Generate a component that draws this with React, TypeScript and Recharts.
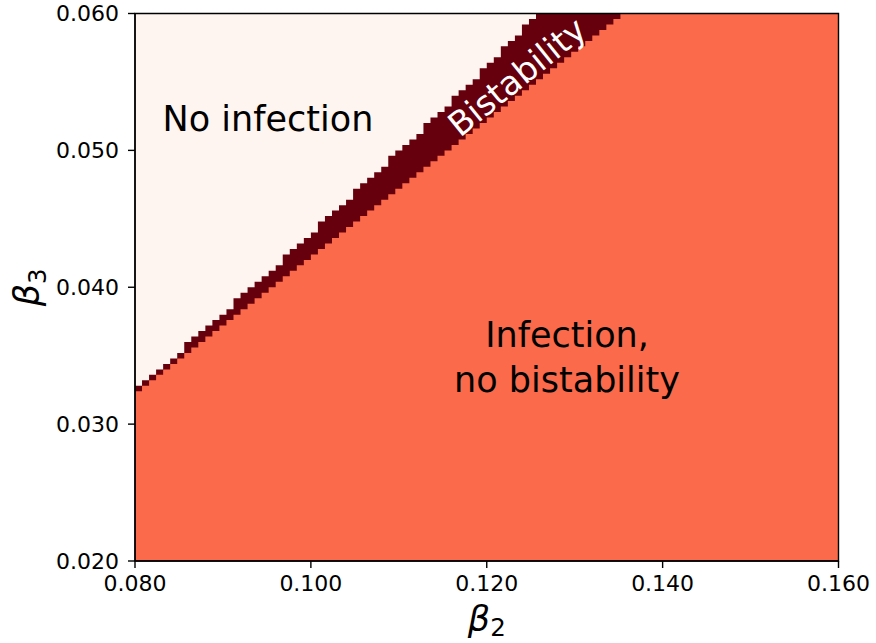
import React from 'react';
import { ComposedChart, Area, XAxis, YAxis, ReferenceArea, ReferenceDot } from 'recharts';

// Parameter grid: 100 x 100 cells over beta2 in [0.08, 0.16] and beta3 in [0.02, 0.06]
const X_MIN = 0.08;
const X_MAX = 0.16;
const Y_MIN = 0.02;
const Y_MAX = 0.06;
const GRID_COLS = 100;
const GRID_ROWS = 100;
const CELL_W = (X_MAX - X_MIN) / GRID_COLS;
const CELL_H = (Y_MAX - Y_MIN) / GRID_ROWS;

// Per beta2 column: number of beta3 rows (from the bottom) with infection and no bistability
const infectionRows = [
  31, 32, 33, 34, 35, 36, 37, 38, 39, 40,
  41, 42, 43, 44, 45, 46, 47, 48, 49, 50,
  51, 52, 53, 54, 55, 56, 57, 58, 59, 60,
  61, 62, 63, 64, 65, 66, 67, 68, 69, 70,
  71, 72, 73, 74, 75, 76, 77, 78, 79, 80,
  81, 82, 83, 84, 85, 86, 87, 88, 89, 90,
  91, 92, 93, 94, 95, 96, 97, 98, 99, 100,
  100, 100, 100, 100, 100, 100, 100, 100, 100, 100,
  100, 100, 100, 100, 100, 100, 100, 100, 100, 100,
  100, 100, 100, 100, 100, 100, 100, 100, 100, 100,
];

// Per beta2 column: first beta3 row of the infection-free region (rows below it and above
// the infection region are bistable)
const noInfectionStartRows = [
  32, 33, 34, 35, 36, 37, 38, 40, 41, 42,
  43, 44, 45, 46, 48, 49, 50, 51, 52, 53,
  54, 56, 57, 58, 59, 60, 62, 63, 64, 65,
  66, 68, 69, 70, 71, 72, 74, 75, 76, 77,
  78, 80, 81, 82, 83, 85, 86, 87, 88, 90,
  91, 92, 94, 95, 96, 98, 99, 100, 100, 100,
  100, 100, 100, 100, 100, 100, 100, 100, 100, 100,
  100, 100, 100, 100, 100, 100, 100, 100, 100, 100,
  100, 100, 100, 100, 100, 100, 100, 100, 100, 100,
  100, 100, 100, 100, 100, 100, 100, 100, 100, 100,
];

const xTicks = [0.08, 0.1, 0.12, 0.14, 0.16];
const yTicks = [0.02, 0.03, 0.04, 0.05, 0.06];

const COLOR_NONE = '#fff5f0';
const COLOR_BISTABLE = '#67000d';
const COLOR_INFECTION = '#fb6a4a';
const FONT = 'DejaVu Sans, sans-serif';

// One point per column left edge, plus a closing point at the right edge, drawn as step areas
const cells = infectionRows.map((rows, c) => ({
  x: X_MIN + c * CELL_W,
  none: Y_MAX,
  bistable: Y_MIN + noInfectionStartRows[c] * CELL_H,
  infection: Y_MIN + rows * CELL_H,
}));
cells.push({ ...cells[cells.length - 1], x: X_MAX });

const fmt = (v: number) => v.toFixed(3);

const XLabel = (props: any) => {
  const { x, y, width } = props.viewBox;
  return (
    <text x={x + width / 2} y={y + 70} textAnchor="middle" fontFamily={FONT} fill="#000">
      <tspan fontSize={35} fontStyle="italic">β</tspan>
      <tspan fontSize={24.5} dy={5}>2</tspan>
    </text>
  );
};

const YLabel = (props: any) => {
  const { y, height } = props.viewBox;
  const cx = 39;
  const cy = y + height / 2;
  return (
    <text
      x={cx}
      y={cy}
      transform={`rotate(-90, ${cx}, ${cy})`}
      textAnchor="middle"
      fontFamily={FONT}
      fill="#000"
    >
      <tspan fontSize={35} fontStyle="italic">β</tspan>
      <tspan fontSize={24.5} dy={7}>3</tspan>
    </text>
  );
};

const NoInfectionNote = (p: any) => (
  <text x={p.cx} y={p.cy} textAnchor="middle" fontSize={35} fontFamily={FONT} fill="#000">
    No infection
  </text>
);

const InfectionNote = (p: any) => (
  <text x={p.cx} y={p.cy} textAnchor="middle" fontSize={35} fontFamily={FONT} fill="#000">
    <tspan x={p.cx}>Infection,</tspan>
    <tspan x={p.cx} dy={44.5}>no bistability</tspan>
  </text>
);

const BistabilityNote = (p: any) => (
  <text
    x={p.cx}
    y={p.cy}
    transform={`rotate(-39, ${p.cx}, ${p.cy})`}
    textAnchor="middle"
    dominantBaseline="central"
    fontSize={33.5}
    fontFamily={FONT}
    fill="#ffffff"
  >
    Bistability
  </text>
);

export default function App() {
  return (
    <div style={{ position: 'absolute', left: 0, top: 0, width: 876, height: 643 }}>
      <ComposedChart
        width={876}
        height={643}
        data={cells}
        margin={{ top: 13.5, right: 37.5, bottom: 0, left: 0 }}
      >
        <XAxis
          dataKey="x"
          type="number"
          domain={[X_MIN, X_MAX]}
          ticks={xTicks}
          interval={0}
          tickFormatter={fmt}
          height={82}
          tickSize={7}
          tickMargin={7}
          axisLine={{ stroke: '#000', strokeWidth: 1.4 }}
          tickLine={{ stroke: '#000', strokeWidth: 1.4 }}
          tick={{ fill: '#000', fontSize: 22, fontFamily: FONT }}
          label={<XLabel />}
          allowDataOverflow
        />
        <YAxis
          type="number"
          domain={[Y_MIN, Y_MAX]}
          ticks={yTicks}
          interval={0}
          tickFormatter={fmt}
          width={135}
          tickSize={7}
          tickMargin={9}
          axisLine={{ stroke: '#000', strokeWidth: 1.4 }}
          tickLine={{ stroke: '#000', strokeWidth: 1.4 }}
          tick={{ fill: '#000', fontSize: 22, fontFamily: FONT }}
          label={<YLabel />}
          allowDataOverflow
        />
        <Area
          type="stepAfter"
          dataKey="none"
          baseValue={Y_MIN}
          fill={COLOR_NONE}
          fillOpacity={1}
          stroke="none"
          isAnimationActive={false}
          dot={false}
          activeDot={false}
        />
        <Area
          type="stepAfter"
          dataKey="bistable"
          baseValue={Y_MIN}
          fill={COLOR_BISTABLE}
          fillOpacity={1}
          stroke="none"
          isAnimationActive={false}
          dot={false}
          activeDot={false}
        />
        <Area
          type="stepAfter"
          dataKey="infection"
          baseValue={Y_MIN}
          fill={COLOR_INFECTION}
          fillOpacity={1}
          stroke="none"
          isAnimationActive={false}
          dot={false}
          activeDot={false}
        />
        <ReferenceDot x={0.09512} y={0.05142} r={1} shape={NoInfectionNote} />
        <ReferenceDot x={0.12913} y={0.0356} r={1} shape={InfectionNote} />
        <ReferenceDot x={0.12344} y={0.05536} r={1} shape={BistabilityNote} />
        <ReferenceArea
          x1={X_MIN}
          x2={X_MAX}
          y1={Y_MIN}
          y2={Y_MAX}
          fill="none"
          fillOpacity={0}
          stroke="#000"
          strokeWidth={1.4}
          ifOverflow="visible"
        />
      </ComposedChart>
    </div>
  );
}
